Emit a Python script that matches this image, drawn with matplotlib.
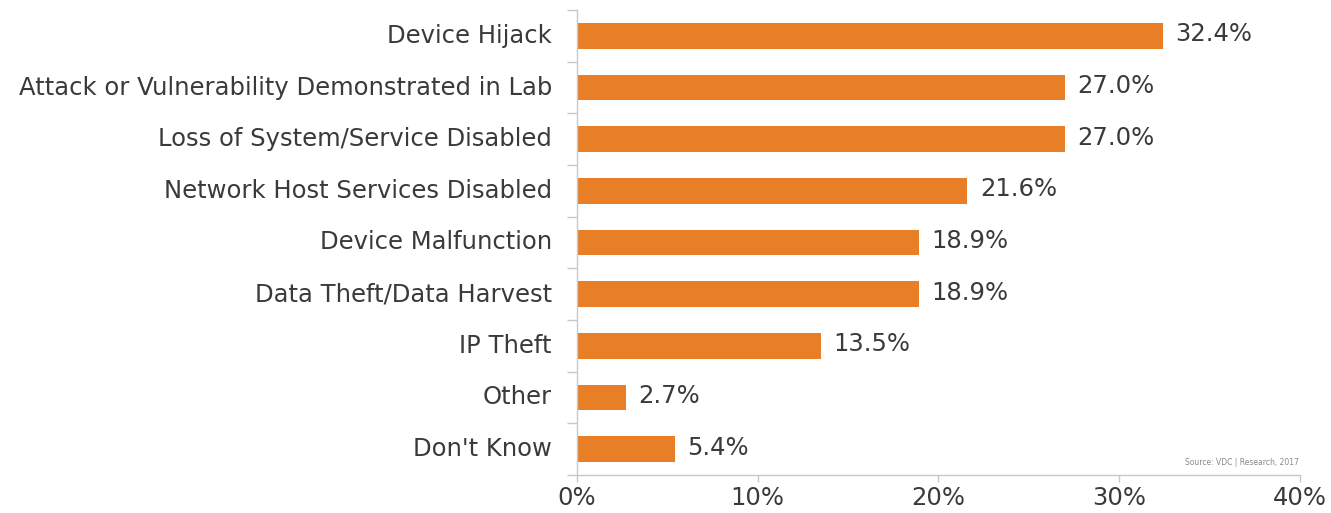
import matplotlib.pyplot as plt
import numpy as np

plt.rcParams['font.family'] = ['DejaVu Sans']

categories = ['Device Hijack', 'Attack or Vulnerability Demonstrated in Lab',
              'Loss of System/Service Disabled', 'Network Host Services Disabled',
              'Device Malfunction', 'Data Theft/Data Harvest', 'IP Theft',
              'Other', "Don't Know"]
values = [32.4, 27.0, 27.0, 21.6, 18.9, 18.9, 13.5, 2.7, 5.4]
xticks = [0, 10, 20, 30, 40]

bar_color = '#E87E25'
text_color = '#3a3a3a'
axis_color = '#c8c8c8'
fs = 17.5

fig = plt.figure(figsize=(13.31, 5.13), dpi=100)
ax = fig.add_axes([0.4335, 0.0741, 0.5432, 0.9064])

y = np.arange(len(categories))
ax.barh(y, values, height=0.5, color=bar_color)
ax.set_ylim(len(categories) - 0.5, -0.5)
ax.set_xlim(0, 40)

for yi, v in zip(y, values):
    ax.text(v + 0.7, yi - 0.03, f'{v:.1f}%', va='center', ha='left',
            fontsize=fs, color=text_color)

ax.set_yticks(y)
ax.set_yticklabels(categories, fontsize=fs, color=text_color, va='center')
ax.tick_params(axis='y', which='major', length=0, pad=18)
ax.set_yticks(np.arange(-0.5, len(categories), 1), minor=True)
ax.tick_params(axis='y', which='minor', length=7, color=axis_color, width=1)

ax.set_xticks(xticks)
ax.set_xticklabels([f'{t}%' for t in xticks], fontsize=fs, color=text_color)
ax.tick_params(axis='x', length=5, color=axis_color, width=1, pad=3)

for s in ['top', 'right']:
    ax.spines[s].set_visible(False)
for s in ['left', 'bottom']:
    ax.spines[s].set_color(axis_color)
    ax.spines[s].set_linewidth(1)

fig.text(0.976, 0.098, 'Source: VDC | Research, 2017', ha='right', va='center',
         fontsize=5.5, color='#888888')

fig.savefig('out.png', dpi=100)
